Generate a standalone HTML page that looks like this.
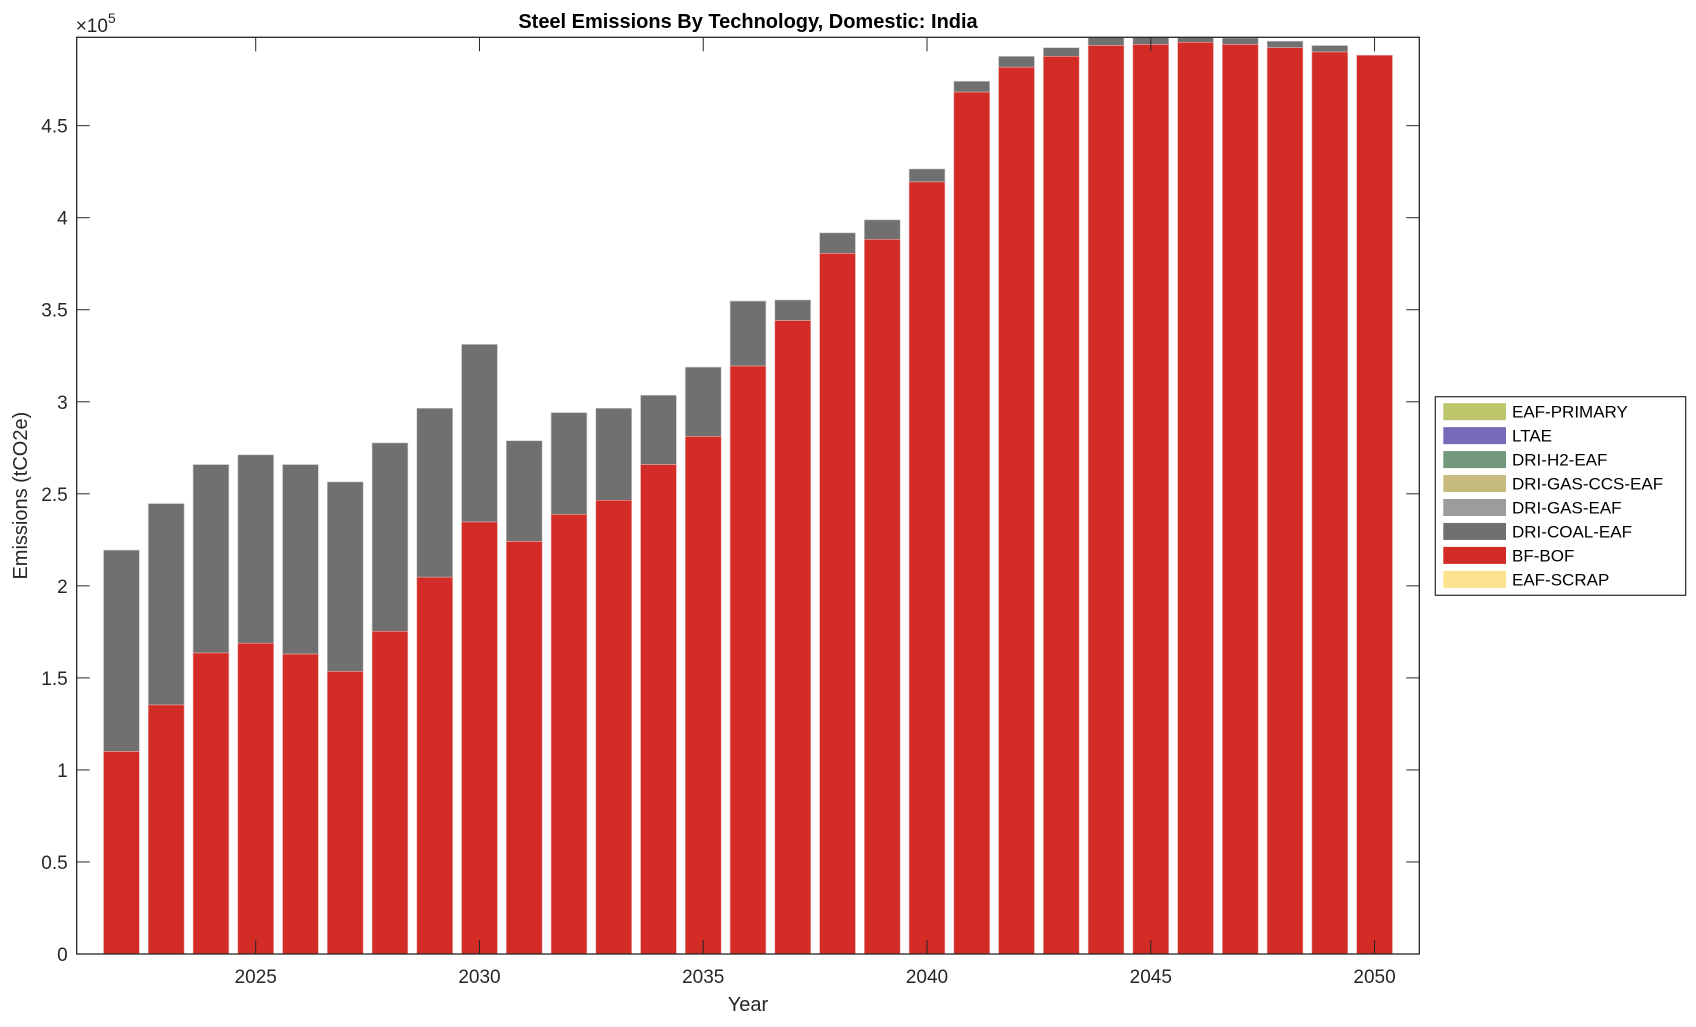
<!DOCTYPE html>
<html><head><meta charset="utf-8">
<style>
html,body{margin:0;padding:0;background:#fff;}
svg text{font-family:"Liberation Sans",Arial,sans-serif;fill:#262626;}
</style></head>
<body>
<svg id="s" width="1696" height="1022" xmlns="http://www.w3.org/2000/svg"></svg>
<script>
const s=document.getElementById('s');
const L=76.7,R=1419.3,T=37.3,B=954,ymax=4.98;
const X=v=>L+(v-2021)/30*(R-L);
const Y=v=>B-v/ymax*(B-T);
const d=[[695,509],[652,466],[604,430],[595,421],[605,430],[621,446],[584,410],[534,378],[483,319],[501,408],[476,382],[463,378],[430,366],[404,340],[339,279],[297,278],[235,216],[222,204],[169,157],[86,76],[63,53],[53,45],[43,35],[42,33],[40,33],[42,36],[45,39],[49,43],[52,52]];
let h='<defs><clipPath id="c"><rect x="'+L+'" y="'+T+'" width="'+(R-L)+'" height="'+(B-T)+'"/></clipPath></defs>';
h+='<g clip-path="url(#c)">';
const bw=0.8*(R-L)/30;
d.forEach((p,i)=>{const yr=2022+i;const r=(882-p[0])/170,t=(882-p[1])/170;
const x=X(yr)-bw/2;
h+=`<rect x="${x}" y="${Y(t)}" width="${bw}" height="${Y(r)-Y(t)}" fill="#707070" stroke="#c8c8c8" stroke-width="0.6"/>`;
h+=`<rect x="${x}" y="${Y(r)}" width="${bw}" height="${B-Y(r)}" fill="#d32b25" stroke="#eba8a5" stroke-width="0.6"/>`;});
h+='</g>';
h+=`<rect x="${L}" y="${T}" width="${R-L}" height="${B-T}" fill="none" stroke="#262626" stroke-width="1.3"/>`;
for(let k=0;k<=9;k++){const v=k*0.5,y=Y(v);
h+=`<line x1="${L}" x2="${L+13}" y1="${y}" y2="${y}" stroke="#262626"/><line x1="${R-13}" x2="${R}" y1="${y}" y2="${y}" stroke="#262626"/>`;
h+=`<text x="${L-9}" y="${y+7}" font-size="19" text-anchor="end">${v===0?'0':(v%1===0?v:v.toFixed(1))}</text>`;}
for(let yr=2025;yr<=2050;yr+=5){const x=X(yr);
h+=`<line x1="${x}" x2="${x}" y1="${B}" y2="${B-14}" stroke="#262626"/><line x1="${x}" x2="${x}" y1="${T}" y2="${T+14}" stroke="#262626"/>`;
h+=`<text x="${x}" y="${B+29}" font-size="19" text-anchor="middle">${yr}</text>`;}
h+=`<text x="${L-1}" y="32" font-size="19">×10<tspan dy="-9" font-size="14">5</tspan></text>`;
h+=`<text x="${(L+R)/2}" y="28" font-size="20" font-weight="bold" text-anchor="middle" style="fill:#000">Steel Emissions By Technology, Domestic: India</text>`;
h+=`<text x="${(L+R)/2}" y="1011" font-size="20" text-anchor="middle">Year</text>`;
h+=`<text transform="translate(27,${(T+B)/2}) rotate(-90)" font-size="20" text-anchor="middle">Emissions (tCO2e)</text>`;
h+=`<rect x="1435.3" y="396.7" width="250.4" height="198.6" fill="#fff" stroke="#262626" stroke-width="1.2"/>`;
const lg=[["EAF-PRIMARY","#bdc66b"],["LTAE","#7569b8"],["DRI-H2-EAF","#73987b"],["DRI-GAS-CCS-EAF","#c6bb7c"],["DRI-GAS-EAF","#9c9c9c"],["DRI-COAL-EAF","#707070"],["BF-BOF","#d32b25"],["EAF-SCRAP","#fde38f"]];
lg.forEach((e,i)=>{const cy=411.7+i*23.95;
h+=`<rect x="1443.3" y="${cy-8.5}" width="62.7" height="17" fill="${e[1]}"/>`;
h+=`<text x="1512" y="${cy+6}" font-size="17" style="fill:#000">${e[0]}</text>`;});
s.innerHTML=h;
</script>
</body></html>
